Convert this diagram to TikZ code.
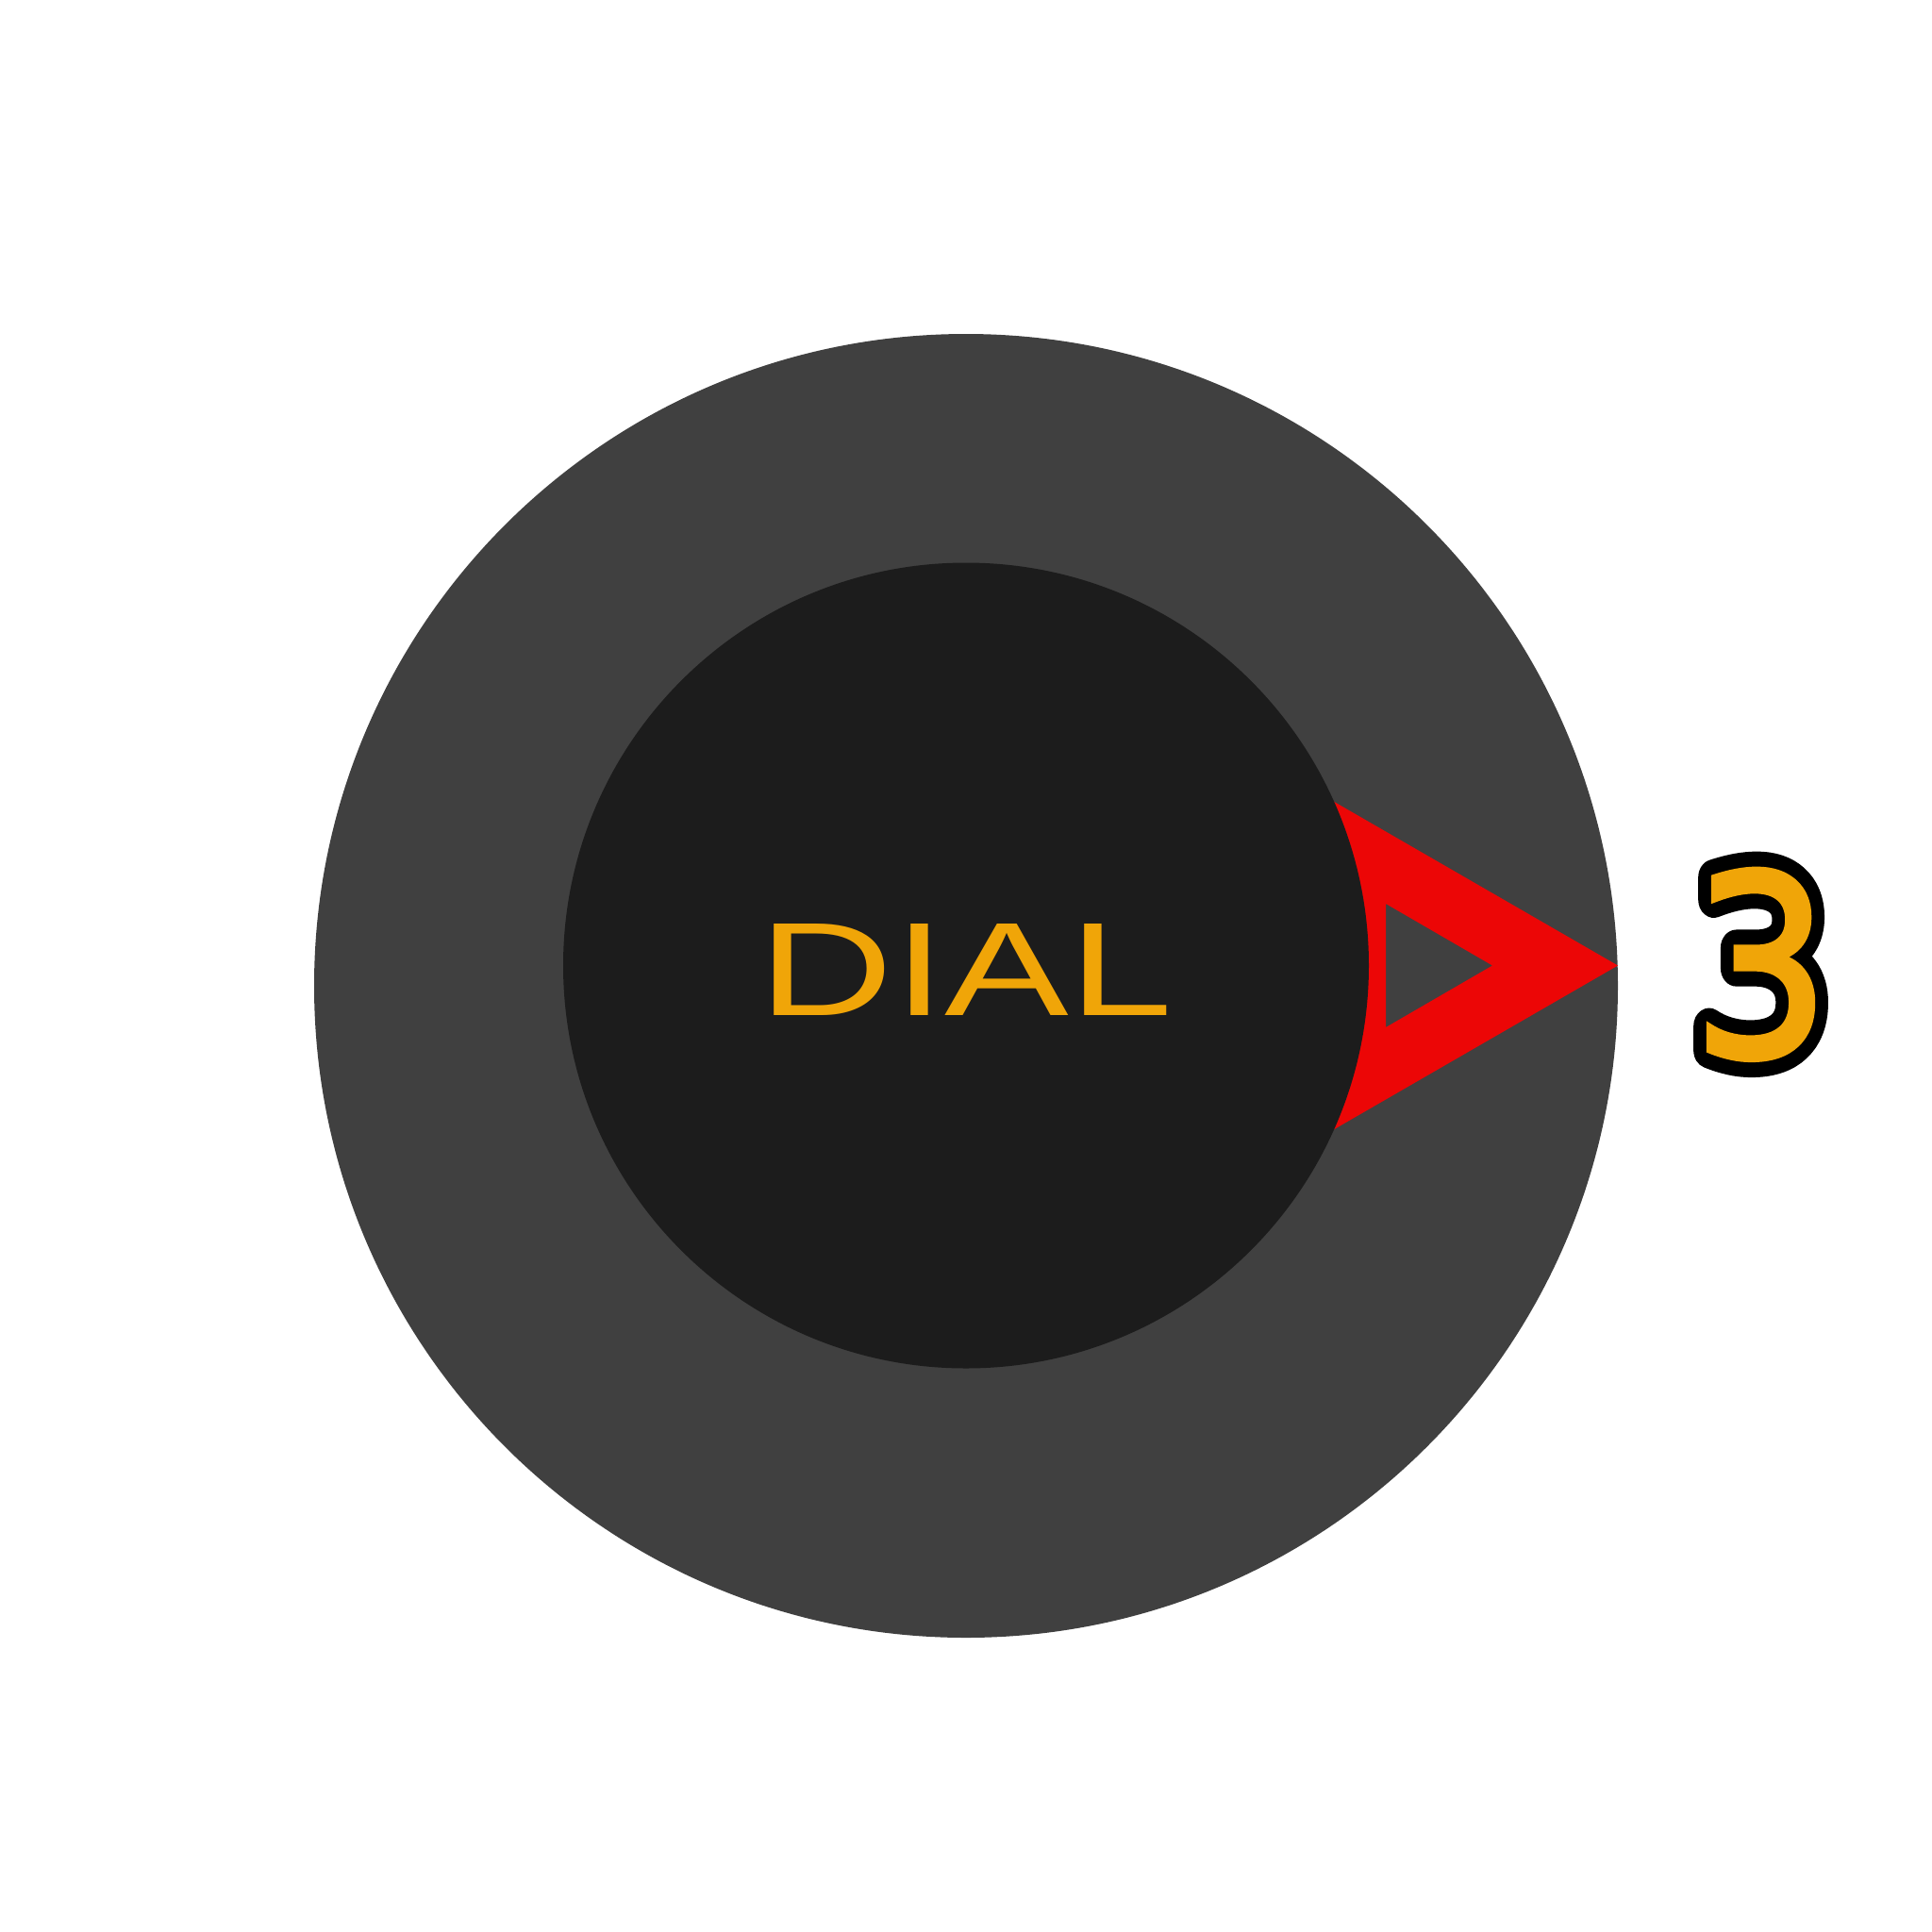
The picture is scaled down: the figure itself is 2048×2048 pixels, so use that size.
\documentclass[tikz,border=0pt]{standalone}
\usepackage{fontspec}
\newfontfamily\dialfont{Liberation Sans}
\newfontfamily\numoutfont{DejaVu Sans}[FakeBold=14.5]
\newfontfamily\numfillfont{DejaVu Sans}[FakeBold=2.5]
\definecolor{ringgray}{HTML}{404040}
\definecolor{innerblack}{HTML}{1C1C1C}
\definecolor{dialred}{HTML}{EC0606}
\definecolor{dialorange}{HTML}{F0A508}
\tikzset{
  labeltext/.style={font=\dialfont\fontsize{40.1pt}{48pt}\selectfont, text=dialorange, inner sep=0pt, anchor=base},
  numout/.style={font=\numoutfont\fontsize{75.5pt}{90pt}\selectfont, text=black, inner sep=0pt, anchor=base},
  numfill/.style={font=\numfillfont\fontsize{75.5pt}{90pt}\selectfont, text=dialorange, inner sep=0pt, anchor=base}
}
\begin{document}
\begin{tikzpicture}[x=0.01cm,y=-0.01cm]
\useasboundingbox (0,0) rectangle (2048,2048);
\fill[ringgray] (1024,1045) circle[radius=691];
\fill[dialred, even odd rule] (1715,1023.5) -- (1350,812.8) -- (1350,1234.2) -- cycle
  (1469,958) -- (1582,1023.5) -- (1469,1089) -- cycle;
\fill[innerblack] (1024,1023.5) circle[radius=427];
\node[labeltext] (dial) at (1024,1076) {\scalebox{1.4}[1]{DIAL}};
\node[numout] (threeoutline) at (1867,1119) {\special{pdf:literal direct 1 j}\scalebox{0.86}[1]{3}};
\node[numfill] (three) at (1867,1119) {\scalebox{0.86}[1]{3}};
\end{tikzpicture}
\end{document}
